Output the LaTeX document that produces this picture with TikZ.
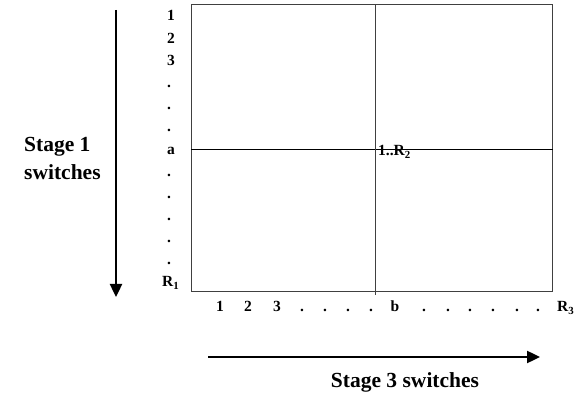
\documentclass[tikz,border=0pt]{standalone}
\usepackage{fontspec}
\setmainfont{Liberation Serif}
\usetikzlibrary{arrows.meta}

\tikzset{
  idx/.style={font=\bfseries\fontsize{15.5}{17}\selectfont, inner sep=0pt, anchor=base west},
  stagelbl/.style={font=\bfseries\fontsize{21.5}{28}\selectfont, align=left, inner sep=0pt},
  flow/.style={-{Triangle[length=13pt,width=12pt]}, line width=2.4pt},
}

\begin{document}
\begin{tikzpicture}[x=1pt,y=1pt]
  \useasboundingbox (0,0) rectangle (578,396);
  % switch matrix
  \node[draw=black!75, line width=1pt, inner sep=0pt, anchor=south west,
        minimum width=361pt, minimum height=287pt] (grid) at (191,104) {};
  \coordinate (rowa) at (191,247);
  \coordinate (colb) at (375,391);
  \draw[line width=0.9pt] (rowa) -- (rowa -| grid.east);
  \draw[black!75, line width=0.9pt] (colb) -- ([yshift=-3pt]colb |- grid.south);
  \node[idx] (mid) at (378,240) {1..R\textsubscript{2}};
  % row indices (stage 1)
  \foreach \lab [count=\n from 0] in {1,2,3,.,.,.,a,.,.,.,.,.}{
    \node[idx] (row\n) at (167,375-22.17*\n) {\lab};
  }
  \node[idx] (row12) at (162,109) {R\textsubscript{1}};
  % column indices (stage 3)
  \foreach \x/\lab [count=\n from 0] in {220/1,248/2,277/3,302/.,325/.,348/.,371/.,395/b,
      424/.,448/.,470/.,493/.,517/.,538/.}{
    \node[idx, anchor=base] (col\n) at (\x,84) {\lab};
  }
  \node[idx] (col14) at (557,84) {R\textsubscript{3}};
  % direction arrows
  \coordinate (s1top) at (116,386);
  \coordinate (s1bot) at (116,99);
  \draw[flow] (s1top) -- (s1bot);
  \coordinate (s3left) at (208,39);
  \coordinate (s3right) at (540,39);
  \draw[flow] (s3left) -- (s3right);
  \node[stagelbl, anchor=west] (s1) at (24,238) {Stage 1\\switches};
  \node[stagelbl, anchor=base] (s3) at (405,8) {Stage 3 switches};
\end{tikzpicture}
\end{document}
